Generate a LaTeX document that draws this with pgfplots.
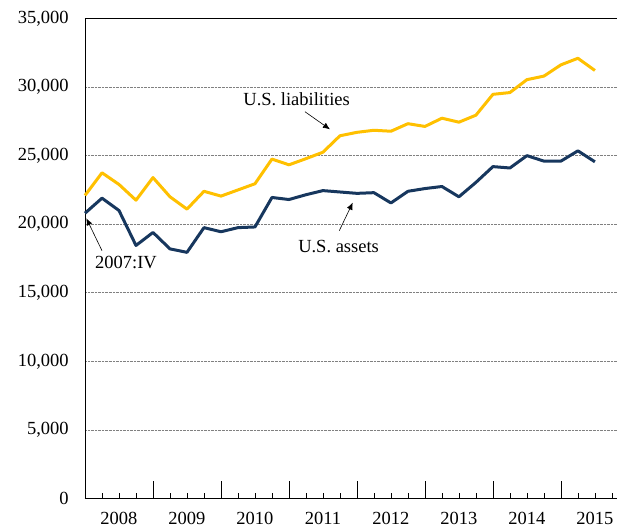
\documentclass[border=0pt]{standalone}
\usepackage{fontspec}
\setmainfont{Liberation Serif}
\usepackage{pgfplots}
\pgfplotsset{compat=1.18}
\usetikzlibrary{arrows.meta}
\definecolor{liab}{RGB}{255,192,0}
\definecolor{asset}{RGB}{23,55,94}
\begin{document}
\fontsize{18.5bp}{22bp}\selectfont
\begin{tikzpicture}
\useasboundingbox (-85bp,-28.5bp) rectangle (532bp,498.5bp);
\begin{axis}[
 at={(0,0)}, anchor=south west,
 scale only axis, width=532bp, height=480bp,
 xmin=0, xmax=31.3, ymin=0, ymax=35000,
 axis x line*=box, axis y line*=left,
 axis line style={line width=0.8bp, black},
 xtick={0,4,...,28}, xticklabels={},
 minor xtick={1,...,31},
 extra x ticks={2,6,...,30},
 extra x tick labels={2008,2009,2010,2011,2012,2013,2014,2015},
 extra x tick style={major tick length=0pt, grid=none},
 tick pos=left, tick align=inside,
 major tick length=17bp, minor tick length=5.5bp,
 every tick/.style={black, line width=0.6bp},
 ytick={0,5000,...,35000},
 scaled y ticks=false,
 ytick style={draw=none},
 ymajorgrids, major grid style={densely dotted, gray, line width=0.6bp},
 yticklabel style={xshift=-10bp, /pgf/number format/.cd, fixed, 1000 sep={,}, assume math mode=true},
 xticklabel style={yshift=-7bp},
 clip=false,
]
\addplot[liab, line width=3bp, line join=round] coordinates {
(0,22100) (1,23750) (2,22900) (3,21750) (4,23400) (5,22000) (6,21100) (7,22400)
(8,22050) (9,22500) (10,22950) (11,24750) (12,24330) (13,24780) (14,25250) (15,26450)
(16,26700) (17,26850) (18,26780) (19,27330) (20,27130) (21,27730) (22,27440) (23,27950)
(24,29470) (25,29600) (26,30540) (27,30800) (28,31620) (29,32100) (30,31210)};
\addplot[asset, line width=3bp, line join=round] coordinates {
(0,20800) (1,21900) (2,21000) (3,18450) (4,19400) (5,18200) (6,17950) (7,19750)
(8,19450) (9,19750) (10,19800) (11,21950) (12,21800) (13,22150) (14,22450) (15,22350)
(16,22250) (17,22300) (18,21550) (19,22400) (20,22600) (21,22750) (22,22000) (23,23050)
(24,24200) (25,24100) (26,25000) (27,24600) (28,24600) (29,25350) (30,24550)};
\node at (axis cs:12.45,29130) {U.S. liabilities};
\draw[-{Latex[length=7bp,width=6bp]}, line width=0.6bp] (axis cs:12.94,28204) -- (axis cs:14.41,26921);
\node at (axis cs:14.92,18375) {U.S. assets};
\draw[-{Latex[length=7bp,width=6bp]}, line width=0.6bp] (axis cs:14.96,19527) -- (axis cs:15.75,21569);
\node at (axis cs:2.41,17208) {2007:IV};
\draw[-{Latex[length=7bp,width=6bp]}, line width=0.6bp] (axis cs:1.0,18069) -- (axis cs:0.08,20431);
\end{axis}
\end{tikzpicture}
\end{document}
